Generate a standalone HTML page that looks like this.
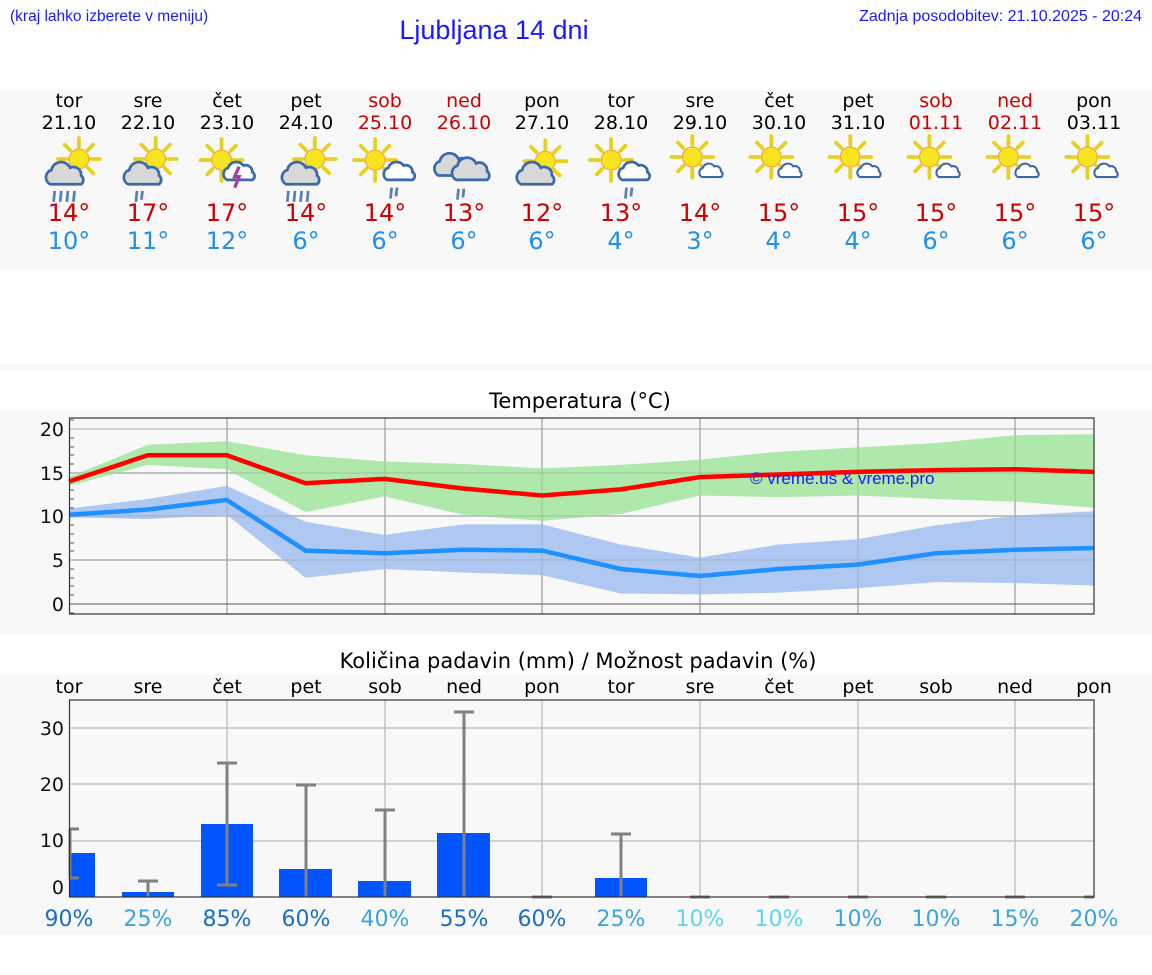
<!DOCTYPE html>
<html><head><meta charset="utf-8"><style>
html,body{margin:0;padding:0;background:#fff;}
svg{display:block;}
.d{font-family:"DejaVu Sans",sans-serif;}
.l{font-family:"Liberation Sans",sans-serif;}
</style></head><body>
<svg width="1152" height="975" viewBox="0 0 1152 975" xmlns="http://www.w3.org/2000/svg">
<defs>
<g id="sun"><g stroke="#e8d020" stroke-width="3.5" stroke-linecap="round"><line x1="0" y1="-11" x2="0" y2="-19"/><line x1="0" y1="11" x2="0" y2="19"/><line x1="-11" y1="0" x2="-19" y2="0"/><line x1="11" y1="0" x2="19" y2="0"/><line x1="8" y1="-8" x2="13" y2="-13"/><line x1="-8" y1="-8" x2="-13" y2="-13"/><line x1="8" y1="8" x2="13" y2="13"/><line x1="-8" y1="8" x2="-13" y2="13"/></g><circle r="9" fill="#f5e41e" stroke="#f0a040" stroke-width="1"/></g>
<g id="cg"><path d="M-14,8 a7,7 0 0 1 1,-13 a9,9 0 0 1 17,-2 a7,7 0 0 1 10,7 a5,5 0 0 1 0,8 z" fill="#d8d8d8" stroke="#3a6aaa" stroke-width="2.5"/></g>
<g id="cw"><path d="M-11,7 a6,6 0 0 1 1,-11 a8,8 0 0 1 14,-2 a6,6 0 0 1 8,6 a4,4 0 0 1 0,7 z" fill="#fff" stroke="#3a6aaa" stroke-width="2.5"/></g>
<g id="r4" stroke="#5a80b8" stroke-width="2.5"><line x1="-10" y1="14" x2="-11" y2="24"/><line x1="-4" y1="14" x2="-5" y2="24"/><line x1="2" y1="14" x2="1" y2="24"/><line x1="8" y1="14" x2="7" y2="24"/></g>
<g id="r2" stroke="#5a80b8" stroke-width="2.5"><line x1="-2" y1="14" x2="-3" y2="24"/><line x1="3" y1="14" x2="2" y2="22"/></g>
</defs>
<rect width="1152" height="975" fill="#fff"/>
<text x="10" y="21" class="l" font-size="15.5" fill="#1a1aff">(kraj lahko izberete v meniju)</text>
<text x="494" y="39" class="l" font-size="27" fill="#1a1aff" text-anchor="middle">Ljubljana 14 dni</text>
<text x="1142" y="21" class="l" font-size="16" fill="#1a1aff" text-anchor="end">Zadnja posodobitev: 21.10.2025 - 20:24</text>
<rect x="0" y="90" width="1152" height="180" fill="#f8f8f8"/>
<rect x="0" y="364" width="1152" height="6" fill="#f8f8f8"/>
<rect x="0" y="410" width="1152" height="224" fill="#f8f8f8"/>
<rect x="0" y="675" width="1152" height="260" fill="#f8f8f8"/>
<g class="d" font-size="19" text-anchor="middle" fill="#000">
<text x="69" y="107">tor</text><text x="148" y="107">sre</text><text x="227" y="107">čet</text><text x="306" y="107">pet</text><text x="385" y="107" fill="#cc0000">sob</text><text x="464" y="107" fill="#cc0000">ned</text><text x="542" y="107">pon</text><text x="621" y="107">tor</text><text x="700" y="107">sre</text><text x="779" y="107">čet</text><text x="858" y="107">pet</text><text x="936" y="107" fill="#cc0000">sob</text><text x="1015" y="107" fill="#cc0000">ned</text><text x="1094" y="107">pon</text>
<text x="69" y="129">21.10</text><text x="148" y="129">22.10</text><text x="227" y="129">23.10</text><text x="306" y="129">24.10</text><text x="385" y="129" fill="#cc0000">25.10</text><text x="464" y="129" fill="#cc0000">26.10</text><text x="542" y="129">27.10</text><text x="621" y="129">28.10</text><text x="700" y="129">29.10</text><text x="779" y="129">30.10</text><text x="858" y="129">31.10</text><text x="936" y="129" fill="#cc0000">01.11</text><text x="1015" y="129" fill="#cc0000">02.11</text><text x="1094" y="129">03.11</text>
</g>
<!-- icons -->
<g transform="translate(69 170) scale(1.1) translate(-69 -165)"><use href="#sun" x="78" y="155"/><use href="#cg" x="66" y="170"/><use href="#r4" x="66" y="170"/></g>
<g transform="translate(148 170) scale(1.1) translate(-148 -165)"><use href="#sun" x="155" y="155"/><use href="#cg" x="144" y="170"/><use href="#r2" x="140" y="170"/></g>
<g transform="translate(227 170) scale(1.1) translate(-227 -165)"><use href="#sun" x="222" y="156"/><use href="#cw" x="238" y="167"/><path d="M238,162 l-4,9 h4 l-4,10" stroke="#a040a0" stroke-width="3" fill="none"/></g>
<g transform="translate(306 170) scale(1.1) translate(-306 -165)"><use href="#sun" x="314" y="155"/><use href="#cg" x="302" y="170"/><use href="#r4" x="300" y="170"/></g>
<g transform="translate(385 170) scale(1.1) translate(-385 -165)"><use href="#sun" x="376" y="156"/><use href="#cw" x="398" y="167"/><use href="#r2" x="393" y="167"/></g>
<g transform="translate(464 170) scale(1.1) translate(-464 -165)"><use href="#cg" x="455" y="162"/><use href="#cg" x="471" y="166"/><use href="#r2" x="461" y="168"/></g>
<g transform="translate(542 170) scale(1.1) translate(-542 -165)"><use href="#sun" x="545" y="157"/><use href="#cg" x="537" y="170"/></g>
<g transform="translate(621 170) scale(1.1) translate(-621 -165)"><use href="#sun" x="612" y="156"/><use href="#cw" x="633" y="167"/><use href="#r2" x="628" y="167"/></g>
<g transform="translate(700 168) scale(1.1) translate(-700 -165)"><use href="#sun" x="693" y="155"/><use href="#cw" x="710" y="168" transform="translate(710 168) scale(0.75) translate(-710 -168)"/></g>
<g transform="translate(779 168) scale(1.1) translate(-779 -165)"><use href="#sun" x="772" y="155"/><use href="#cw" x="789" y="168" transform="translate(789 168) scale(0.75) translate(-789 -168)"/></g>
<g transform="translate(858 168) scale(1.1) translate(-858 -165)"><use href="#sun" x="851" y="155"/><use href="#cw" x="868" y="168" transform="translate(868 168) scale(0.75) translate(-868 -168)"/></g>
<g transform="translate(936 168) scale(1.1) translate(-936 -165)"><use href="#sun" x="930" y="155"/><use href="#cw" x="947" y="168" transform="translate(947 168) scale(0.75) translate(-947 -168)"/></g>
<g transform="translate(1015 168) scale(1.1) translate(-1015 -165)"><use href="#sun" x="1009" y="155"/><use href="#cw" x="1026" y="168" transform="translate(1026 168) scale(0.75) translate(-1026 -168)"/></g>
<g transform="translate(1094 168) scale(1.1) translate(-1094 -165)"><use href="#sun" x="1088" y="155"/><use href="#cw" x="1105" y="168" transform="translate(1105 168) scale(0.75) translate(-1105 -168)"/></g>
<g class="d" font-size="24" text-anchor="middle" fill="#cc0000">
<text x="69" y="221">14°</text><text x="148" y="221">17°</text><text x="227" y="221">17°</text><text x="306" y="221">14°</text><text x="385" y="221">14°</text><text x="464" y="221">13°</text><text x="542" y="221">12°</text><text x="621" y="221">13°</text><text x="700" y="221">14°</text><text x="779" y="221">15°</text><text x="858" y="221">15°</text><text x="936" y="221">15°</text><text x="1015" y="221">15°</text><text x="1094" y="221">15°</text>
</g>
<g class="d" font-size="24" text-anchor="middle" fill="#2090f0">
<text x="69" y="249">10°</text><text x="148" y="249">11°</text><text x="227" y="249">12°</text><text x="306" y="249">6°</text><text x="385" y="249">6°</text><text x="464" y="249">6°</text><text x="542" y="249">6°</text><text x="621" y="249">4°</text><text x="700" y="249">3°</text><text x="779" y="249">4°</text><text x="858" y="249">4°</text><text x="936" y="249">6°</text><text x="1015" y="249">6°</text><text x="1094" y="249">6°</text>
</g>
<!-- temperature chart -->
<text x="580" y="408" class="d" font-size="21" text-anchor="middle">Temperatura (°C)</text>
<g stroke="#c4c4c4" stroke-width="1.5">
<line x1="69" y1="429" x2="1094" y2="429"/><line x1="69" y1="473" x2="1094" y2="473"/><line x1="69" y1="516" x2="1094" y2="516"/><line x1="69" y1="560" x2="1094" y2="560"/>
<line x1="227" y1="418" x2="227" y2="614"/><line x1="385" y1="418" x2="385" y2="614"/><line x1="542" y1="418" x2="542" y2="614"/><line x1="700" y1="418" x2="700" y2="614"/><line x1="858" y1="418" x2="858" y2="614"/><line x1="1015" y1="418" x2="1015" y2="614"/>
</g>
<line x1="69" y1="604" x2="1094" y2="604" stroke="#555" stroke-width="1"/>
<polygon fill="#aee8aa" points="69,477.1 147.8,444.75 226.7,441.25 305.5,455.25 384.4,461.4 463.2,464 542.1,468.4 620.9,464.9 699.8,459.6 778.6,451.75 857.5,447.4 936.3,443 1015.2,435.1 1094,434.25 1094,507.75 1015.2,501.6 936.3,499 857.5,495.5 778.6,497.25 699.8,495.5 620.9,513.9 542.1,520.9 463.2,514.75 384.4,496.4 305.5,512.1 226.7,469.25 147.8,464.9 69,485.9"/>
<polygon fill="#aec8f2" points="69,508.6 147.8,499 226.7,485.9 305.5,521.75 384.4,534.9 463.2,524.4 542.1,524.4 620.9,544.5 699.8,557.6 778.6,544.5 857.5,539.25 936.3,525.25 1015.2,515.6 1094,511.25 1094,585.6 1015.2,583 936.3,582.1 857.5,588.25 778.6,592.6 699.8,594.4 620.9,593.5 542.1,575.1 463.2,572.5 384.4,569 305.5,577.75 226.7,514.75 147.8,519.1 69,517.4"/>
<g stroke="#999" stroke-opacity="0.35" stroke-width="1.5">
<line x1="227" y1="418" x2="227" y2="614"/><line x1="385" y1="418" x2="385" y2="614"/><line x1="542" y1="418" x2="542" y2="614"/><line x1="700" y1="418" x2="700" y2="614"/><line x1="858" y1="418" x2="858" y2="614"/><line x1="1015" y1="418" x2="1015" y2="614"/>
<line x1="69" y1="473" x2="1094" y2="473"/><line x1="69" y1="516" x2="1094" y2="516"/><line x1="69" y1="560" x2="1094" y2="560"/>
</g>
<polyline fill="none" stroke="#ff0000" stroke-width="4.5" points="69,481.5 147.8,455.25 226.7,455.25 305.5,483.25 384.4,478.9 463.2,488.5 542.1,495.5 620.9,489.4 699.8,477.1 778.6,474.5 857.5,471.9 936.3,470.1 1015.2,469.25 1094,471.9"/>
<polyline fill="none" stroke="#1e90ff" stroke-width="4.5" points="69,514.75 147.8,509.5 226.7,499.9 305.5,550.6 384.4,553.25 463.2,549.75 542.1,550.6 620.9,569 699.8,576 778.6,569 857.5,564.6 936.3,553.25 1015.2,549.75 1094,548"/>
<text x="750" y="484" class="l" font-size="17" fill="#1a1aff">© vreme.us &amp; vreme.pro</text>
<rect x="69.5" y="418" width="1024.5" height="196" fill="none" stroke="#333" stroke-width="1.2"/>
<g stroke="#555" stroke-width="1">
<line x1="69" y1="420" x2="74" y2="420"/><line x1="69" y1="438" x2="74" y2="438"/><line x1="69" y1="447" x2="74" y2="447"/><line x1="69" y1="455" x2="74" y2="455"/><line x1="69" y1="464" x2="74" y2="464"/><line x1="69" y1="482" x2="74" y2="482"/><line x1="69" y1="490" x2="74" y2="490"/><line x1="69" y1="499" x2="74" y2="499"/><line x1="69" y1="508" x2="74" y2="508"/><line x1="69" y1="525" x2="74" y2="525"/><line x1="69" y1="534" x2="74" y2="534"/><line x1="69" y1="543" x2="74" y2="543"/><line x1="69" y1="551" x2="74" y2="551"/><line x1="69" y1="569" x2="74" y2="569"/><line x1="69" y1="578" x2="74" y2="578"/><line x1="69" y1="586" x2="74" y2="586"/><line x1="69" y1="595" x2="74" y2="595"/><line x1="69" y1="613" x2="74" y2="613"/>
</g>
<g class="d" font-size="19" text-anchor="end" fill="#111">
<text x="64" y="436">20</text><text x="64" y="480">15</text><text x="64" y="523">10</text><text x="64" y="567">5</text><text x="64" y="611">0</text>
</g>
<!-- precip chart -->
<text x="578" y="668" class="d" font-size="21" text-anchor="middle">Količina padavin (mm) / Možnost padavin (%)</text>
<g class="d" font-size="19" text-anchor="middle" fill="#000">
<text x="69" y="693">tor</text><text x="148" y="693">sre</text><text x="227" y="693">čet</text><text x="306" y="693">pet</text><text x="385" y="693">sob</text><text x="464" y="693">ned</text><text x="542" y="693">pon</text><text x="621" y="693">tor</text><text x="700" y="693">sre</text><text x="779" y="693">čet</text><text x="858" y="693">pet</text><text x="936" y="693">sob</text><text x="1015" y="693">ned</text><text x="1094" y="693">pon</text>
</g>
<g stroke="#c4c4c4" stroke-width="1.5">
<line x1="69" y1="728" x2="1094" y2="728"/><line x1="69" y1="784" x2="1094" y2="784"/><line x1="69" y1="841" x2="1094" y2="841"/>
<line x1="227" y1="700" x2="227" y2="897"/><line x1="385" y1="700" x2="385" y2="897"/><line x1="542" y1="700" x2="542" y2="897"/><line x1="700" y1="700" x2="700" y2="897"/><line x1="858" y1="700" x2="858" y2="897"/><line x1="1015" y1="700" x2="1015" y2="897"/>
</g>
<g fill="#0055ff">
<rect x="69" y="853" width="26" height="44"/><rect x="122" y="892" width="52" height="5"/><rect x="201" y="824" width="52" height="73"/><rect x="279" y="869" width="53" height="28"/><rect x="358" y="881" width="53" height="16"/><rect x="437" y="833" width="53" height="64"/><rect x="595" y="878" width="52" height="19"/>
</g>
<g stroke="#808080" stroke-width="3" fill="none">
<path d="M70,829 V878 M69,829 h10 M69,878 h10"/>
<path d="M148,897 V881 M138,881 h20"/>
<path d="M227,885 V763 M217,763 h20 M217,885 h20"/>
<path d="M306,897 V785 M296,785 h20"/>
<path d="M385,897 V810 M375,810 h20"/>
<path d="M464,897 V712 M454,712 h20"/>
<path d="M621,897 V834 M611,834 h20"/>
<path d="M532,897 h20 M690,897 h20 M769,897 h20 M848,897 h20 M926,897 h20 M1005,897 h20 M1084,897 h10"/>
</g>
<rect x="69.5" y="700" width="1024.5" height="197" fill="none" stroke="#333" stroke-width="1.2"/>
<g class="d" font-size="19" text-anchor="end" fill="#111">
<text x="64" y="735">30</text><text x="64" y="791">20</text><text x="64" y="847">10</text><text x="64" y="894">0</text>
</g>
<g class="d" font-size="22" text-anchor="middle">
<text x="69" y="926" fill="#1a6ec4">90%</text><text x="148" y="926" fill="#3aa4dc">25%</text><text x="227" y="926" fill="#1a6ec4">85%</text><text x="306" y="926" fill="#1a6ec4">60%</text><text x="385" y="926" fill="#3aa4dc">40%</text><text x="464" y="926" fill="#1a6ec4">55%</text><text x="542" y="926" fill="#1a6ec4">60%</text><text x="621" y="926" fill="#3aa4dc">25%</text><text x="700" y="926" fill="#5cd6ea">10%</text><text x="779" y="926" fill="#5cd6ea">10%</text><text x="858" y="926" fill="#3aa4dc">10%</text><text x="936" y="926" fill="#3aa4dc">10%</text><text x="1015" y="926" fill="#3aa4dc">15%</text><text x="1094" y="926" fill="#3aa4dc">20%</text>
</g>
</svg>
</body></html>
